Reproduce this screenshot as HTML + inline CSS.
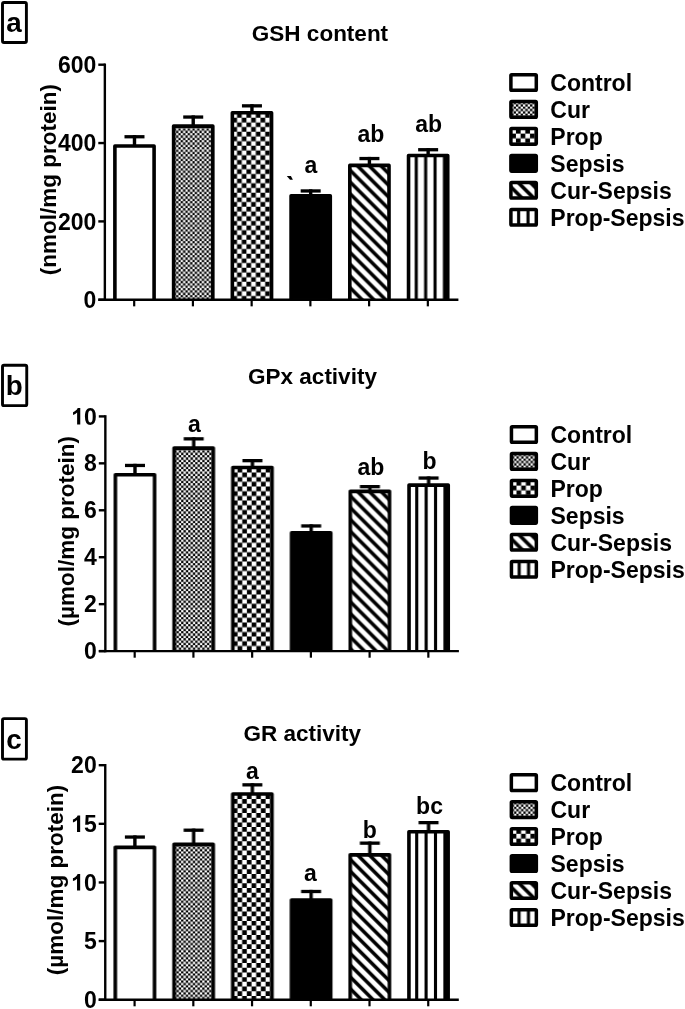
<!DOCTYPE html>
<html><head><meta charset="utf-8"><title>Figure</title>
<style>html,body{margin:0;padding:0;background:#fff}svg{display:block;will-change:transform}text{font-family:"Liberation Sans", sans-serif;font-weight:bold;fill:#000}</style>
</head><body>
<svg width="685" height="1009" viewBox="0 0 685 1009">
<rect width="685" height="1009" fill="#fff"/>
<rect x="2.50" y="2.50" width="23.90" height="40.05" rx="1.5" fill="#fff" stroke="#000" stroke-width="2.9"/>
<text x="14.05" y="32.05" font-size="27.8" text-anchor="middle">a</text>
<text x="320.00" y="40.60" font-size="22.5" text-anchor="middle">GSH content</text>
<text transform="translate(56.00 179.60) rotate(-90)" font-size="22.5" text-anchor="middle">(nmol/mg protein)</text>
<g transform="translate(0.00 0)">
<rect x="132.79" y="135.10" width="3.4" height="10.90" fill="#000"/>
<rect x="124.49" y="135.10" width="20.0" height="3.3" fill="#000"/>
<svg x="114.89" y="146.00" width="39.20" height="153.75"><rect width="100%" height="100%" fill="#fff"/></svg>
<path d="M114.89 299.75V146.00H154.09V299.75" fill="none" stroke="#000" stroke-width="3.6" stroke-linejoin="round"/>
<rect x="191.52" y="115.40" width="3.4" height="10.70" fill="#000"/>
<rect x="183.22" y="115.40" width="20.0" height="3.3" fill="#000"/>
<svg x="173.62" y="126.10" width="39.20" height="173.65"><rect width="100%" height="100%" fill="#fff"/><path d="M-4.70 -1.27H41.5M-2.35 1.07H41.5M-4.70 3.42H41.5M-2.35 5.77H41.5M-4.70 8.12H41.5M-2.35 10.46H41.5M-4.70 12.81H41.5M-2.35 15.16H41.5M-4.70 17.51H41.5M-2.35 19.85H41.5M-4.70 22.20H41.5M-2.35 24.55H41.5M-4.70 26.90H41.5M-2.35 29.24H41.5M-4.70 31.59H41.5M-2.35 33.94H41.5M-4.70 36.29H41.5M-2.35 38.63H41.5M-4.70 40.98H41.5M-2.35 43.33H41.5M-4.70 45.68H41.5M-2.35 48.02H41.5M-4.70 50.37H41.5M-2.35 52.72H41.5M-4.70 55.07H41.5M-2.35 57.41H41.5M-4.70 59.76H41.5M-2.35 62.11H41.5M-4.70 64.46H41.5M-2.35 66.80H41.5M-4.70 69.15H41.5M-2.35 71.50H41.5M-4.70 73.85H41.5M-2.35 76.19H41.5M-4.70 78.54H41.5M-2.35 80.89H41.5M-4.70 83.24H41.5M-2.35 85.58H41.5M-4.70 87.93H41.5M-2.35 90.28H41.5M-4.70 92.63H41.5M-2.35 94.97H41.5M-4.70 97.32H41.5M-2.35 99.67H41.5M-4.70 102.02H41.5M-2.35 104.36H41.5M-4.70 106.71H41.5M-2.35 109.06H41.5M-4.70 111.41H41.5M-2.35 113.75H41.5M-4.70 116.10H41.5M-2.35 118.45H41.5M-4.70 120.80H41.5M-2.35 123.14H41.5M-4.70 125.49H41.5M-2.35 127.84H41.5M-4.70 130.19H41.5M-2.35 132.53H41.5M-4.70 134.88H41.5M-2.35 137.23H41.5M-4.70 139.58H41.5M-2.35 141.92H41.5M-4.70 144.27H41.5M-2.35 146.62H41.5M-4.70 148.97H41.5M-2.35 151.31H41.5M-4.70 153.66H41.5M-2.35 156.01H41.5M-4.70 158.36H41.5M-2.35 160.70H41.5M-4.70 163.05H41.5M-2.35 165.40H41.5M-4.70 167.75H41.5M-2.35 170.09H41.5M-4.70 172.44H41.5M-2.35 174.79H41.5" stroke="#000" stroke-width="2.348" stroke-dasharray="2.348 2.348" fill="none"/></svg>
<path d="M173.62 299.75V126.10H212.82V299.75" fill="none" stroke="#000" stroke-width="3.6" stroke-linejoin="round"/>
<rect x="250.25" y="104.20" width="3.4" height="8.55" fill="#000"/>
<rect x="241.95" y="104.20" width="20.0" height="3.3" fill="#000"/>
<svg x="232.35" y="112.75" width="39.20" height="187.00"><rect width="100%" height="100%" fill="#fff"/><path d="M-9.38 -2.10H43.9M-4.69 2.60H43.9M-9.38 7.29H43.9M-4.69 11.98H43.9M-9.38 16.67H43.9M-4.69 21.36H43.9M-9.38 26.05H43.9M-4.69 30.74H43.9M-9.38 35.43H43.9M-4.69 40.12H43.9M-9.38 44.81H43.9M-4.69 49.50H43.9M-9.38 54.19H43.9M-4.69 58.88H43.9M-9.38 63.57H43.9M-4.69 68.26H43.9M-9.38 72.95H43.9M-4.69 77.64H43.9M-9.38 82.33H43.9M-4.69 87.02H43.9M-9.38 91.71H43.9M-4.69 96.40H43.9M-9.38 101.09H43.9M-4.69 105.78H43.9M-9.38 110.47H43.9M-4.69 115.16H43.9M-9.38 119.85H43.9M-4.69 124.54H43.9M-9.38 129.23H43.9M-4.69 133.92H43.9M-9.38 138.61H43.9M-4.69 143.30H43.9M-9.38 147.99H43.9M-4.69 152.68H43.9M-9.38 157.37H43.9M-4.69 162.06H43.9M-9.38 166.75H43.9M-4.69 171.44H43.9M-9.38 176.13H43.9M-4.69 180.82H43.9M-9.38 185.51H43.9" stroke="#000" stroke-width="4.690" stroke-dasharray="4.690 4.690" fill="none"/></svg>
<path d="M232.35 299.75V112.75H271.55V299.75" fill="none" stroke="#000" stroke-width="3.6" stroke-linejoin="round"/>
<rect x="308.98" y="189.30" width="3.4" height="6.50" fill="#000"/>
<rect x="300.68" y="189.30" width="20.0" height="3.3" fill="#000"/>
<svg x="291.08" y="195.80" width="39.20" height="103.95"><rect width="100%" height="100%" fill="#000"/></svg>
<path d="M291.08 299.75V195.80H330.28V299.75" fill="none" stroke="#000" stroke-width="3.6" stroke-linejoin="round"/>
<rect x="367.71" y="156.90" width="3.4" height="8.50" fill="#000"/>
<rect x="359.41" y="156.90" width="20.0" height="3.3" fill="#000"/>
<svg x="349.81" y="165.40" width="39.20" height="134.35"><rect width="100%" height="100%" fill="#fff"/><path d="M-2.00 -58.80L41.20 -15.60L41.20 -10.50L-2.00 -53.70ZM-2.00 -47.05L41.20 -3.85L41.20 1.25L-2.00 -41.95ZM-2.00 -35.30L41.20 7.90L41.20 13.00L-2.00 -30.20ZM-2.00 -23.55L41.20 19.65L41.20 24.75L-2.00 -18.45ZM-2.00 -11.80L41.20 31.40L41.20 36.50L-2.00 -6.70ZM-2.00 -0.05L41.20 43.15L41.20 48.25L-2.00 5.05ZM-2.00 11.70L41.20 54.90L41.20 60.00L-2.00 16.80ZM-2.00 23.45L41.20 66.65L41.20 71.75L-2.00 28.55ZM-2.00 35.20L41.20 78.40L41.20 83.50L-2.00 40.30ZM-2.00 46.95L41.20 90.15L41.20 95.25L-2.00 52.05ZM-2.00 58.70L41.20 101.90L41.20 107.00L-2.00 63.80ZM-2.00 70.45L41.20 113.65L41.20 118.75L-2.00 75.55ZM-2.00 82.20L41.20 125.40L41.20 130.50L-2.00 87.30ZM-2.00 93.95L41.20 137.15L41.20 142.25L-2.00 99.05ZM-2.00 105.70L41.20 148.90L41.20 154.00L-2.00 110.80ZM-2.00 117.45L41.20 160.65L41.20 165.75L-2.00 122.55ZM-2.00 129.20L41.20 172.40L41.20 177.50L-2.00 134.30Z" fill="#000"/></svg>
<path d="M349.81 299.75V165.40H389.01V299.75" fill="none" stroke="#000" stroke-width="3.6" stroke-linejoin="round"/>
<rect x="426.44" y="148.07" width="3.4" height="7.49" fill="#000"/>
<rect x="418.14" y="148.07" width="20.0" height="3.3" fill="#000"/>
<svg x="408.54" y="155.56" width="39.20" height="144.19"><rect width="100%" height="100%" fill="#fff"/><path d="M6.15 0H9.25V144.2H6.15ZM15.55 0H18.65V144.2H15.55ZM24.95 0H28.05V144.2H24.95ZM34.35 0H39.20V144.2H34.35Z" fill="#000"/></svg>
<path d="M408.54 299.75V155.56H447.74V299.75" fill="none" stroke="#000" stroke-width="3.6" stroke-linejoin="round"/>
<path d="M104.85 63.50 V300.95" stroke="#000" stroke-width="2.4" fill="none"/>
<path d="M98.30 299.75 H458.40" stroke="#000" stroke-width="2.4" fill="none"/>
<path d="M98.3 299.75 H104.85" stroke="#000" stroke-width="2.4"/>
<text x="96.3" y="307.85" font-size="23.0" text-anchor="end">0</text>
<path d="M98.3 221.40 H104.85" stroke="#000" stroke-width="2.4"/>
<text x="96.3" y="229.50" font-size="23.0" text-anchor="end">200</text>
<path d="M98.3 143.05 H104.85" stroke="#000" stroke-width="2.4"/>
<text x="96.3" y="151.15" font-size="23.0" text-anchor="end">400</text>
<path d="M98.3 64.70 H104.85" stroke="#000" stroke-width="2.4"/>
<text x="96.3" y="72.80" font-size="23.0" text-anchor="end">600</text>
<path d="M134.19 299.75 V306.35" stroke="#000" stroke-width="2.2"/>
<path d="M192.92 299.75 V306.35" stroke="#000" stroke-width="2.2"/>
<path d="M251.65 299.75 V306.35" stroke="#000" stroke-width="2.2"/>
<path d="M310.38 299.75 V306.35" stroke="#000" stroke-width="2.2"/>
<path d="M369.11 299.75 V306.35" stroke="#000" stroke-width="2.2"/>
<path d="M427.84 299.75 V306.35" stroke="#000" stroke-width="2.2"/>
</g>
<text x="310.80" y="173.10" font-size="23.0" text-anchor="middle">a</text>
<text x="370.90" y="142.30" font-size="23.0" text-anchor="middle">ab</text>
<text x="428.70" y="131.60" font-size="23.0" text-anchor="middle">ab</text>
<svg x="510.90" y="74.65" width="25.40" height="15.60"><rect width="100%" height="100%" fill="#fff"/></svg>
<rect x="510.90" y="74.65" width="25.40" height="15.60" rx="0.8" fill="none" stroke="#000" stroke-width="3.5" stroke-linejoin="round"/>
<text x="550.30" y="90.80" font-size="23.0">Control</text>
<svg x="510.90" y="101.61" width="25.40" height="15.60"><rect width="100%" height="100%" fill="#fff"/><path d="M-4.40 -0.97H27.7M-2.05 1.37H27.7M-4.40 3.72H27.7M-2.05 6.07H27.7M-4.40 8.42H27.7M-2.05 10.76H27.7M-4.40 13.11H27.7M-2.05 15.46H27.7" stroke="#000" stroke-width="2.348" stroke-dasharray="2.348 2.348" fill="none"/></svg>
<rect x="510.90" y="101.61" width="25.40" height="15.60" rx="0.8" fill="none" stroke="#000" stroke-width="3.5" stroke-linejoin="round"/>
<text x="550.30" y="117.76" font-size="23.0">Cur</text>
<svg x="510.90" y="128.57" width="25.40" height="15.60"><rect width="100%" height="100%" fill="#fff"/><path d="M-9.08 -1.95H30.1M-4.39 2.75H30.1M-9.08 7.44H30.1M-4.39 12.13H30.1M-9.08 16.82H30.1" stroke="#000" stroke-width="4.690" stroke-dasharray="4.690 4.690" fill="none"/></svg>
<rect x="510.90" y="128.57" width="25.40" height="15.60" rx="0.8" fill="none" stroke="#000" stroke-width="3.5" stroke-linejoin="round"/>
<text x="550.30" y="144.72" font-size="23.0">Prop</text>
<svg x="510.90" y="155.53" width="25.40" height="15.60"><rect width="100%" height="100%" fill="#000"/></svg>
<rect x="510.90" y="155.53" width="25.40" height="15.60" rx="0.8" fill="none" stroke="#000" stroke-width="3.5" stroke-linejoin="round"/>
<text x="550.30" y="171.68" font-size="23.0">Sepsis</text>
<svg x="510.90" y="182.49" width="25.40" height="15.60"><rect width="100%" height="100%" fill="#fff"/><path d="M-2.00 -47.05L27.40 -17.65L27.40 -12.55L-2.00 -41.95ZM-2.00 -35.30L27.40 -5.90L27.40 -0.80L-2.00 -30.20ZM-2.00 -29.55L27.40 -0.15L27.40 10.45L-2.00 -18.95ZM-2.00 -11.80L27.40 17.60L27.40 22.70L-2.00 -6.70ZM-2.00 -0.05L27.40 29.35L27.40 34.45L-2.00 5.05ZM-2.00 11.70L27.40 41.10L27.40 46.20L-2.00 16.80Z" fill="#000"/></svg>
<rect x="510.90" y="182.49" width="25.40" height="15.60" rx="0.8" fill="none" stroke="#000" stroke-width="3.5" stroke-linejoin="round"/>
<text x="550.30" y="198.64" font-size="23.0">Cur-Sepsis</text>
<svg x="510.90" y="209.45" width="25.40" height="15.60"><rect width="100%" height="100%" fill="#fff"/><path d="M6.15 0H9.25V15.6H6.15ZM15.55 0H18.65V15.6H15.55ZM24.95 0H25.40V15.6H24.95Z" fill="#000"/></svg>
<rect x="510.90" y="209.45" width="25.40" height="15.60" rx="0.8" fill="none" stroke="#000" stroke-width="3.5" stroke-linejoin="round"/>
<text x="550.30" y="225.60" font-size="23.0">Prop-Sepsis</text>
<rect x="2.50" y="365.25" width="24.25" height="40.40" rx="1.5" fill="#fff" stroke="#000" stroke-width="2.9"/>
<text x="14.22" y="395.30" font-size="27.8" text-anchor="middle">b</text>
<text x="312.50" y="383.50" font-size="22.5" text-anchor="middle">GPx activity</text>
<text transform="translate(73.80 531.30) rotate(-90)" font-size="22.5" text-anchor="middle">(µmol/mg protein)</text>
<g transform="translate(0.50 0)">
<rect x="132.79" y="463.80" width="3.4" height="10.90" fill="#000"/>
<rect x="124.49" y="463.80" width="20.0" height="3.3" fill="#000"/>
<svg x="114.89" y="474.70" width="39.20" height="176.40"><rect width="100%" height="100%" fill="#fff"/></svg>
<path d="M114.89 651.10V474.70H154.09V651.10" fill="none" stroke="#000" stroke-width="3.6" stroke-linejoin="round"/>
<rect x="191.52" y="437.20" width="3.4" height="10.90" fill="#000"/>
<rect x="183.22" y="437.20" width="20.0" height="3.3" fill="#000"/>
<svg x="173.62" y="448.10" width="39.20" height="203.00"><rect width="100%" height="100%" fill="#fff"/><path d="M-4.70 -1.27H41.5M-2.35 1.07H41.5M-4.70 3.42H41.5M-2.35 5.77H41.5M-4.70 8.12H41.5M-2.35 10.46H41.5M-4.70 12.81H41.5M-2.35 15.16H41.5M-4.70 17.51H41.5M-2.35 19.85H41.5M-4.70 22.20H41.5M-2.35 24.55H41.5M-4.70 26.90H41.5M-2.35 29.24H41.5M-4.70 31.59H41.5M-2.35 33.94H41.5M-4.70 36.29H41.5M-2.35 38.63H41.5M-4.70 40.98H41.5M-2.35 43.33H41.5M-4.70 45.68H41.5M-2.35 48.02H41.5M-4.70 50.37H41.5M-2.35 52.72H41.5M-4.70 55.07H41.5M-2.35 57.41H41.5M-4.70 59.76H41.5M-2.35 62.11H41.5M-4.70 64.46H41.5M-2.35 66.80H41.5M-4.70 69.15H41.5M-2.35 71.50H41.5M-4.70 73.85H41.5M-2.35 76.19H41.5M-4.70 78.54H41.5M-2.35 80.89H41.5M-4.70 83.24H41.5M-2.35 85.58H41.5M-4.70 87.93H41.5M-2.35 90.28H41.5M-4.70 92.63H41.5M-2.35 94.97H41.5M-4.70 97.32H41.5M-2.35 99.67H41.5M-4.70 102.02H41.5M-2.35 104.36H41.5M-4.70 106.71H41.5M-2.35 109.06H41.5M-4.70 111.41H41.5M-2.35 113.75H41.5M-4.70 116.10H41.5M-2.35 118.45H41.5M-4.70 120.80H41.5M-2.35 123.14H41.5M-4.70 125.49H41.5M-2.35 127.84H41.5M-4.70 130.19H41.5M-2.35 132.53H41.5M-4.70 134.88H41.5M-2.35 137.23H41.5M-4.70 139.58H41.5M-2.35 141.92H41.5M-4.70 144.27H41.5M-2.35 146.62H41.5M-4.70 148.97H41.5M-2.35 151.31H41.5M-4.70 153.66H41.5M-2.35 156.01H41.5M-4.70 158.36H41.5M-2.35 160.70H41.5M-4.70 163.05H41.5M-2.35 165.40H41.5M-4.70 167.75H41.5M-2.35 170.09H41.5M-4.70 172.44H41.5M-2.35 174.79H41.5M-4.70 177.14H41.5M-2.35 179.48H41.5M-4.70 181.83H41.5M-2.35 184.18H41.5M-4.70 186.53H41.5M-2.35 188.87H41.5M-4.70 191.22H41.5M-2.35 193.57H41.5M-4.70 195.92H41.5M-2.35 198.26H41.5M-4.70 200.61H41.5M-2.35 202.96H41.5" stroke="#000" stroke-width="2.348" stroke-dasharray="2.348 2.348" fill="none"/></svg>
<path d="M173.62 651.10V448.10H212.82V651.10" fill="none" stroke="#000" stroke-width="3.6" stroke-linejoin="round"/>
<rect x="250.25" y="459.00" width="3.4" height="8.50" fill="#000"/>
<rect x="241.95" y="459.00" width="20.0" height="3.3" fill="#000"/>
<svg x="232.35" y="467.50" width="39.20" height="183.60"><rect width="100%" height="100%" fill="#fff"/><path d="M-9.38 -2.10H43.9M-4.69 2.60H43.9M-9.38 7.29H43.9M-4.69 11.98H43.9M-9.38 16.67H43.9M-4.69 21.36H43.9M-9.38 26.05H43.9M-4.69 30.74H43.9M-9.38 35.43H43.9M-4.69 40.12H43.9M-9.38 44.81H43.9M-4.69 49.50H43.9M-9.38 54.19H43.9M-4.69 58.88H43.9M-9.38 63.57H43.9M-4.69 68.26H43.9M-9.38 72.95H43.9M-4.69 77.64H43.9M-9.38 82.33H43.9M-4.69 87.02H43.9M-9.38 91.71H43.9M-4.69 96.40H43.9M-9.38 101.09H43.9M-4.69 105.78H43.9M-9.38 110.47H43.9M-4.69 115.16H43.9M-9.38 119.85H43.9M-4.69 124.54H43.9M-9.38 129.23H43.9M-4.69 133.92H43.9M-9.38 138.61H43.9M-4.69 143.30H43.9M-9.38 147.99H43.9M-4.69 152.68H43.9M-9.38 157.37H43.9M-4.69 162.06H43.9M-9.38 166.75H43.9M-4.69 171.44H43.9M-9.38 176.13H43.9M-4.69 180.82H43.9M-9.38 185.51H43.9" stroke="#000" stroke-width="4.690" stroke-dasharray="4.690 4.690" fill="none"/></svg>
<path d="M232.35 651.10V467.50H271.55V651.10" fill="none" stroke="#000" stroke-width="3.6" stroke-linejoin="round"/>
<rect x="308.98" y="524.30" width="3.4" height="8.60" fill="#000"/>
<rect x="300.68" y="524.30" width="20.0" height="3.3" fill="#000"/>
<svg x="291.08" y="532.90" width="39.20" height="118.20"><rect width="100%" height="100%" fill="#000"/></svg>
<path d="M291.08 651.10V532.90H330.28V651.10" fill="none" stroke="#000" stroke-width="3.6" stroke-linejoin="round"/>
<rect x="367.71" y="485.00" width="3.4" height="6.40" fill="#000"/>
<rect x="359.41" y="485.00" width="20.0" height="3.3" fill="#000"/>
<svg x="349.81" y="491.40" width="39.20" height="159.70"><rect width="100%" height="100%" fill="#fff"/><path d="M-2.00 -58.80L41.20 -15.60L41.20 -10.50L-2.00 -53.70ZM-2.00 -47.05L41.20 -3.85L41.20 1.25L-2.00 -41.95ZM-2.00 -35.30L41.20 7.90L41.20 13.00L-2.00 -30.20ZM-2.00 -23.55L41.20 19.65L41.20 24.75L-2.00 -18.45ZM-2.00 -11.80L41.20 31.40L41.20 36.50L-2.00 -6.70ZM-2.00 -0.05L41.20 43.15L41.20 48.25L-2.00 5.05ZM-2.00 11.70L41.20 54.90L41.20 60.00L-2.00 16.80ZM-2.00 23.45L41.20 66.65L41.20 71.75L-2.00 28.55ZM-2.00 35.20L41.20 78.40L41.20 83.50L-2.00 40.30ZM-2.00 46.95L41.20 90.15L41.20 95.25L-2.00 52.05ZM-2.00 58.70L41.20 101.90L41.20 107.00L-2.00 63.80ZM-2.00 70.45L41.20 113.65L41.20 118.75L-2.00 75.55ZM-2.00 82.20L41.20 125.40L41.20 130.50L-2.00 87.30ZM-2.00 93.95L41.20 137.15L41.20 142.25L-2.00 99.05ZM-2.00 105.70L41.20 148.90L41.20 154.00L-2.00 110.80ZM-2.00 117.45L41.20 160.65L41.20 165.75L-2.00 122.55ZM-2.00 129.20L41.20 172.40L41.20 177.50L-2.00 134.30ZM-2.00 140.95L41.20 184.15L41.20 189.25L-2.00 146.05ZM-2.00 152.70L41.20 195.90L41.20 201.00L-2.00 157.80Z" fill="#000"/></svg>
<path d="M349.81 651.10V491.40H389.01V651.10" fill="none" stroke="#000" stroke-width="3.6" stroke-linejoin="round"/>
<rect x="426.44" y="476.40" width="3.4" height="8.70" fill="#000"/>
<rect x="418.14" y="476.40" width="20.0" height="3.3" fill="#000"/>
<svg x="408.54" y="485.10" width="39.20" height="166.00"><rect width="100%" height="100%" fill="#fff"/><path d="M6.15 0H9.25V166.0H6.15ZM15.55 0H18.65V166.0H15.55ZM24.95 0H28.05V166.0H24.95ZM34.35 0H39.20V166.0H34.35Z" fill="#000"/></svg>
<path d="M408.54 651.10V485.10H447.74V651.10" fill="none" stroke="#000" stroke-width="3.6" stroke-linejoin="round"/>
<path d="M104.85 415.20 V652.30" stroke="#000" stroke-width="2.4" fill="none"/>
<path d="M98.30 651.10 H458.40" stroke="#000" stroke-width="2.4" fill="none"/>
<path d="M98.3 651.10 H104.85" stroke="#000" stroke-width="2.4"/>
<text x="96.3" y="659.20" font-size="23.0" text-anchor="end">0</text>
<path d="M98.3 604.16 H104.85" stroke="#000" stroke-width="2.4"/>
<text x="96.3" y="612.26" font-size="23.0" text-anchor="end">2</text>
<path d="M98.3 557.22 H104.85" stroke="#000" stroke-width="2.4"/>
<text x="96.3" y="565.32" font-size="23.0" text-anchor="end">4</text>
<path d="M98.3 510.28 H104.85" stroke="#000" stroke-width="2.4"/>
<text x="96.3" y="518.38" font-size="23.0" text-anchor="end">6</text>
<path d="M98.3 463.34 H104.85" stroke="#000" stroke-width="2.4"/>
<text x="96.3" y="471.44" font-size="23.0" text-anchor="end">8</text>
<path d="M98.3 416.40 H104.85" stroke="#000" stroke-width="2.4"/>
<path transform="translate(70.72 424.50) scale(0.01123 -0.01123)" d="M806 0H525V1059Q371 915 162 846V1101Q272 1137 401 1237.5Q530 1338 578 1472H806Z" fill="#000"/>
<text x="96.3" y="424.50" font-size="23.0" text-anchor="end">0</text>
<path d="M134.19 651.10 V657.70" stroke="#000" stroke-width="2.2"/>
<path d="M192.92 651.10 V657.70" stroke="#000" stroke-width="2.2"/>
<path d="M251.65 651.10 V657.70" stroke="#000" stroke-width="2.2"/>
<path d="M310.38 651.10 V657.70" stroke="#000" stroke-width="2.2"/>
<path d="M369.11 651.10 V657.70" stroke="#000" stroke-width="2.2"/>
<path d="M427.84 651.10 V657.70" stroke="#000" stroke-width="2.2"/>
</g>
<text x="194.30" y="431.80" font-size="23.0" text-anchor="middle">a</text>
<text x="370.90" y="474.60" font-size="23.0" text-anchor="middle">ab</text>
<text x="429.50" y="469.30" font-size="23.0" text-anchor="middle">b</text>
<svg x="511.45" y="426.65" width="24.90" height="15.60"><rect width="100%" height="100%" fill="#fff"/></svg>
<rect x="511.45" y="426.65" width="24.90" height="15.60" rx="0.8" fill="none" stroke="#000" stroke-width="3.5" stroke-linejoin="round"/>
<text x="550.50" y="442.80" font-size="23.0">Control</text>
<svg x="511.45" y="453.61" width="24.90" height="15.60"><rect width="100%" height="100%" fill="#fff"/><path d="M-4.40 -0.97H27.2M-2.05 1.37H27.2M-4.40 3.72H27.2M-2.05 6.07H27.2M-4.40 8.42H27.2M-2.05 10.76H27.2M-4.40 13.11H27.2M-2.05 15.46H27.2" stroke="#000" stroke-width="2.348" stroke-dasharray="2.348 2.348" fill="none"/></svg>
<rect x="511.45" y="453.61" width="24.90" height="15.60" rx="0.8" fill="none" stroke="#000" stroke-width="3.5" stroke-linejoin="round"/>
<text x="550.50" y="469.76" font-size="23.0">Cur</text>
<svg x="511.45" y="480.57" width="24.90" height="15.60"><rect width="100%" height="100%" fill="#fff"/><path d="M-9.08 -1.95H29.6M-4.39 2.75H29.6M-9.08 7.44H29.6M-4.39 12.13H29.6M-9.08 16.82H29.6" stroke="#000" stroke-width="4.690" stroke-dasharray="4.690 4.690" fill="none"/></svg>
<rect x="511.45" y="480.57" width="24.90" height="15.60" rx="0.8" fill="none" stroke="#000" stroke-width="3.5" stroke-linejoin="round"/>
<text x="550.50" y="496.72" font-size="23.0">Prop</text>
<svg x="511.45" y="507.53" width="24.90" height="15.60"><rect width="100%" height="100%" fill="#000"/></svg>
<rect x="511.45" y="507.53" width="24.90" height="15.60" rx="0.8" fill="none" stroke="#000" stroke-width="3.5" stroke-linejoin="round"/>
<text x="550.50" y="523.68" font-size="23.0">Sepsis</text>
<svg x="511.45" y="534.49" width="24.90" height="15.60"><rect width="100%" height="100%" fill="#fff"/><path d="M-2.00 -47.05L26.90 -18.15L26.90 -13.05L-2.00 -41.95ZM-2.00 -35.30L26.90 -6.40L26.90 -1.30L-2.00 -30.20ZM-2.00 -29.55L26.90 -0.65L26.90 9.95L-2.00 -18.95ZM-2.00 -11.80L26.90 17.10L26.90 22.20L-2.00 -6.70ZM-2.00 -0.05L26.90 28.85L26.90 33.95L-2.00 5.05ZM-2.00 11.70L26.90 40.60L26.90 45.70L-2.00 16.80Z" fill="#000"/></svg>
<rect x="511.45" y="534.49" width="24.90" height="15.60" rx="0.8" fill="none" stroke="#000" stroke-width="3.5" stroke-linejoin="round"/>
<text x="550.50" y="550.64" font-size="23.0">Cur-Sepsis</text>
<svg x="511.45" y="561.45" width="24.90" height="15.60"><rect width="100%" height="100%" fill="#fff"/><path d="M6.15 0H9.25V15.6H6.15ZM15.55 0H18.65V15.6H15.55ZM24.95 0H24.90V15.6H24.95Z" fill="#000"/></svg>
<rect x="511.45" y="561.45" width="24.90" height="15.60" rx="0.8" fill="none" stroke="#000" stroke-width="3.5" stroke-linejoin="round"/>
<text x="550.50" y="577.60" font-size="23.0">Prop-Sepsis</text>
<rect x="2.50" y="718.65" width="23.90" height="40.50" rx="1.5" fill="#fff" stroke="#000" stroke-width="2.9"/>
<text x="14.05" y="748.80" font-size="27.8" text-anchor="middle">c</text>
<text x="302.20" y="741.10" font-size="22.5" text-anchor="middle">GR activity</text>
<text transform="translate(63.00 880.00) rotate(-90)" font-size="22.5" text-anchor="middle">(µmol/mg protein)</text>
<g transform="translate(0.40 0)">
<rect x="132.79" y="835.40" width="3.4" height="11.95" fill="#000"/>
<rect x="124.49" y="835.40" width="20.0" height="3.3" fill="#000"/>
<svg x="114.89" y="847.35" width="39.20" height="152.35"><rect width="100%" height="100%" fill="#fff"/></svg>
<path d="M114.89 999.70V847.35H154.09V999.70" fill="none" stroke="#000" stroke-width="3.6" stroke-linejoin="round"/>
<rect x="191.52" y="828.55" width="3.4" height="15.85" fill="#000"/>
<rect x="183.22" y="828.55" width="20.0" height="3.3" fill="#000"/>
<svg x="173.62" y="844.40" width="39.20" height="155.30"><rect width="100%" height="100%" fill="#fff"/><path d="M-4.70 -1.27H41.5M-2.35 1.07H41.5M-4.70 3.42H41.5M-2.35 5.77H41.5M-4.70 8.12H41.5M-2.35 10.46H41.5M-4.70 12.81H41.5M-2.35 15.16H41.5M-4.70 17.51H41.5M-2.35 19.85H41.5M-4.70 22.20H41.5M-2.35 24.55H41.5M-4.70 26.90H41.5M-2.35 29.24H41.5M-4.70 31.59H41.5M-2.35 33.94H41.5M-4.70 36.29H41.5M-2.35 38.63H41.5M-4.70 40.98H41.5M-2.35 43.33H41.5M-4.70 45.68H41.5M-2.35 48.02H41.5M-4.70 50.37H41.5M-2.35 52.72H41.5M-4.70 55.07H41.5M-2.35 57.41H41.5M-4.70 59.76H41.5M-2.35 62.11H41.5M-4.70 64.46H41.5M-2.35 66.80H41.5M-4.70 69.15H41.5M-2.35 71.50H41.5M-4.70 73.85H41.5M-2.35 76.19H41.5M-4.70 78.54H41.5M-2.35 80.89H41.5M-4.70 83.24H41.5M-2.35 85.58H41.5M-4.70 87.93H41.5M-2.35 90.28H41.5M-4.70 92.63H41.5M-2.35 94.97H41.5M-4.70 97.32H41.5M-2.35 99.67H41.5M-4.70 102.02H41.5M-2.35 104.36H41.5M-4.70 106.71H41.5M-2.35 109.06H41.5M-4.70 111.41H41.5M-2.35 113.75H41.5M-4.70 116.10H41.5M-2.35 118.45H41.5M-4.70 120.80H41.5M-2.35 123.14H41.5M-4.70 125.49H41.5M-2.35 127.84H41.5M-4.70 130.19H41.5M-2.35 132.53H41.5M-4.70 134.88H41.5M-2.35 137.23H41.5M-4.70 139.58H41.5M-2.35 141.92H41.5M-4.70 144.27H41.5M-2.35 146.62H41.5M-4.70 148.97H41.5M-2.35 151.31H41.5M-4.70 153.66H41.5M-2.35 156.01H41.5" stroke="#000" stroke-width="2.348" stroke-dasharray="2.348 2.348" fill="none"/></svg>
<path d="M173.62 999.70V844.40H212.82V999.70" fill="none" stroke="#000" stroke-width="3.6" stroke-linejoin="round"/>
<rect x="250.25" y="783.20" width="3.4" height="10.75" fill="#000"/>
<rect x="241.95" y="783.20" width="20.0" height="3.3" fill="#000"/>
<svg x="232.35" y="793.95" width="39.20" height="205.75"><rect width="100%" height="100%" fill="#fff"/><path d="M-9.38 -2.10H43.9M-4.69 2.60H43.9M-9.38 7.29H43.9M-4.69 11.98H43.9M-9.38 16.67H43.9M-4.69 21.36H43.9M-9.38 26.05H43.9M-4.69 30.74H43.9M-9.38 35.43H43.9M-4.69 40.12H43.9M-9.38 44.81H43.9M-4.69 49.50H43.9M-9.38 54.19H43.9M-4.69 58.88H43.9M-9.38 63.57H43.9M-4.69 68.26H43.9M-9.38 72.95H43.9M-4.69 77.64H43.9M-9.38 82.33H43.9M-4.69 87.02H43.9M-9.38 91.71H43.9M-4.69 96.40H43.9M-9.38 101.09H43.9M-4.69 105.78H43.9M-9.38 110.47H43.9M-4.69 115.16H43.9M-9.38 119.85H43.9M-4.69 124.54H43.9M-9.38 129.23H43.9M-4.69 133.92H43.9M-9.38 138.61H43.9M-4.69 143.30H43.9M-9.38 147.99H43.9M-4.69 152.68H43.9M-9.38 157.37H43.9M-4.69 162.06H43.9M-9.38 166.75H43.9M-4.69 171.44H43.9M-9.38 176.13H43.9M-4.69 180.82H43.9M-9.38 185.51H43.9M-4.69 190.20H43.9M-9.38 194.89H43.9M-4.69 199.58H43.9M-9.38 204.27H43.9" stroke="#000" stroke-width="4.690" stroke-dasharray="4.690 4.690" fill="none"/></svg>
<path d="M232.35 999.70V793.95H271.55V999.70" fill="none" stroke="#000" stroke-width="3.6" stroke-linejoin="round"/>
<rect x="308.98" y="889.85" width="3.4" height="10.20" fill="#000"/>
<rect x="300.68" y="889.85" width="20.0" height="3.3" fill="#000"/>
<svg x="291.08" y="900.05" width="39.20" height="99.65"><rect width="100%" height="100%" fill="#000"/></svg>
<path d="M291.08 999.70V900.05H330.28V999.70" fill="none" stroke="#000" stroke-width="3.6" stroke-linejoin="round"/>
<rect x="367.71" y="841.50" width="3.4" height="13.35" fill="#000"/>
<rect x="359.41" y="841.50" width="20.0" height="3.3" fill="#000"/>
<svg x="349.81" y="854.85" width="39.20" height="144.85"><rect width="100%" height="100%" fill="#fff"/><path d="M-2.00 -58.80L41.20 -15.60L41.20 -10.50L-2.00 -53.70ZM-2.00 -47.05L41.20 -3.85L41.20 1.25L-2.00 -41.95ZM-2.00 -35.30L41.20 7.90L41.20 13.00L-2.00 -30.20ZM-2.00 -23.55L41.20 19.65L41.20 24.75L-2.00 -18.45ZM-2.00 -11.80L41.20 31.40L41.20 36.50L-2.00 -6.70ZM-2.00 -0.05L41.20 43.15L41.20 48.25L-2.00 5.05ZM-2.00 11.70L41.20 54.90L41.20 60.00L-2.00 16.80ZM-2.00 23.45L41.20 66.65L41.20 71.75L-2.00 28.55ZM-2.00 35.20L41.20 78.40L41.20 83.50L-2.00 40.30ZM-2.00 46.95L41.20 90.15L41.20 95.25L-2.00 52.05ZM-2.00 58.70L41.20 101.90L41.20 107.00L-2.00 63.80ZM-2.00 70.45L41.20 113.65L41.20 118.75L-2.00 75.55ZM-2.00 82.20L41.20 125.40L41.20 130.50L-2.00 87.30ZM-2.00 93.95L41.20 137.15L41.20 142.25L-2.00 99.05ZM-2.00 105.70L41.20 148.90L41.20 154.00L-2.00 110.80ZM-2.00 117.45L41.20 160.65L41.20 165.75L-2.00 122.55ZM-2.00 129.20L41.20 172.40L41.20 177.50L-2.00 134.30ZM-2.00 140.95L41.20 184.15L41.20 189.25L-2.00 146.05Z" fill="#000"/></svg>
<path d="M349.81 999.70V854.85H389.01V999.70" fill="none" stroke="#000" stroke-width="3.6" stroke-linejoin="round"/>
<rect x="426.44" y="821.00" width="3.4" height="10.70" fill="#000"/>
<rect x="418.14" y="821.00" width="20.0" height="3.3" fill="#000"/>
<svg x="408.54" y="831.70" width="39.20" height="168.00"><rect width="100%" height="100%" fill="#fff"/><path d="M6.15 0H9.25V168.0H6.15ZM15.55 0H18.65V168.0H15.55ZM24.95 0H28.05V168.0H24.95ZM34.35 0H39.20V168.0H34.35Z" fill="#000"/></svg>
<path d="M408.54 999.70V831.70H447.74V999.70" fill="none" stroke="#000" stroke-width="3.6" stroke-linejoin="round"/>
<path d="M104.85 764.00 V1000.90" stroke="#000" stroke-width="2.4" fill="none"/>
<path d="M98.30 999.70 H458.40" stroke="#000" stroke-width="2.4" fill="none"/>
<path d="M98.3 999.70 H104.85" stroke="#000" stroke-width="2.4"/>
<text x="96.3" y="1007.80" font-size="23.0" text-anchor="end">0</text>
<path d="M98.3 941.08 H104.85" stroke="#000" stroke-width="2.4"/>
<text x="96.3" y="949.18" font-size="23.0" text-anchor="end">5</text>
<path d="M98.3 882.45 H104.85" stroke="#000" stroke-width="2.4"/>
<path transform="translate(70.72 890.55) scale(0.01123 -0.01123)" d="M806 0H525V1059Q371 915 162 846V1101Q272 1137 401 1237.5Q530 1338 578 1472H806Z" fill="#000"/>
<text x="96.3" y="890.55" font-size="23.0" text-anchor="end">0</text>
<path d="M98.3 823.83 H104.85" stroke="#000" stroke-width="2.4"/>
<path transform="translate(70.72 831.93) scale(0.01123 -0.01123)" d="M806 0H525V1059Q371 915 162 846V1101Q272 1137 401 1237.5Q530 1338 578 1472H806Z" fill="#000"/>
<text x="96.3" y="831.93" font-size="23.0" text-anchor="end">5</text>
<path d="M98.3 765.20 H104.85" stroke="#000" stroke-width="2.4"/>
<text x="96.3" y="773.30" font-size="23.0" text-anchor="end">20</text>
<path d="M134.19 999.70 V1006.30" stroke="#000" stroke-width="2.2"/>
<path d="M192.92 999.70 V1006.30" stroke="#000" stroke-width="2.2"/>
<path d="M251.65 999.70 V1006.30" stroke="#000" stroke-width="2.2"/>
<path d="M310.38 999.70 V1006.30" stroke="#000" stroke-width="2.2"/>
<path d="M369.11 999.70 V1006.30" stroke="#000" stroke-width="2.2"/>
<path d="M427.84 999.70 V1006.30" stroke="#000" stroke-width="2.2"/>
</g>
<text x="252.50" y="779.05" font-size="23.0" text-anchor="middle">a</text>
<text x="310.50" y="881.05" font-size="23.0" text-anchor="middle">a</text>
<text x="369.80" y="837.70" font-size="23.0" text-anchor="middle">b</text>
<text x="429.50" y="813.80" font-size="23.0" text-anchor="middle">bc</text>
<svg x="511.35" y="774.85" width="25.00" height="15.60"><rect width="100%" height="100%" fill="#fff"/></svg>
<rect x="511.35" y="774.85" width="25.00" height="15.60" rx="0.8" fill="none" stroke="#000" stroke-width="3.5" stroke-linejoin="round"/>
<text x="550.50" y="791.00" font-size="23.0">Control</text>
<svg x="511.35" y="801.81" width="25.00" height="15.60"><rect width="100%" height="100%" fill="#fff"/><path d="M-4.40 -0.97H27.3M-2.05 1.37H27.3M-4.40 3.72H27.3M-2.05 6.07H27.3M-4.40 8.42H27.3M-2.05 10.76H27.3M-4.40 13.11H27.3M-2.05 15.46H27.3" stroke="#000" stroke-width="2.348" stroke-dasharray="2.348 2.348" fill="none"/></svg>
<rect x="511.35" y="801.81" width="25.00" height="15.60" rx="0.8" fill="none" stroke="#000" stroke-width="3.5" stroke-linejoin="round"/>
<text x="550.50" y="817.96" font-size="23.0">Cur</text>
<svg x="511.35" y="828.77" width="25.00" height="15.60"><rect width="100%" height="100%" fill="#fff"/><path d="M-9.08 -1.95H29.7M-4.39 2.75H29.7M-9.08 7.44H29.7M-4.39 12.13H29.7M-9.08 16.82H29.7" stroke="#000" stroke-width="4.690" stroke-dasharray="4.690 4.690" fill="none"/></svg>
<rect x="511.35" y="828.77" width="25.00" height="15.60" rx="0.8" fill="none" stroke="#000" stroke-width="3.5" stroke-linejoin="round"/>
<text x="550.50" y="844.92" font-size="23.0">Prop</text>
<svg x="511.35" y="855.73" width="25.00" height="15.60"><rect width="100%" height="100%" fill="#000"/></svg>
<rect x="511.35" y="855.73" width="25.00" height="15.60" rx="0.8" fill="none" stroke="#000" stroke-width="3.5" stroke-linejoin="round"/>
<text x="550.50" y="871.88" font-size="23.0">Sepsis</text>
<svg x="511.35" y="882.69" width="25.00" height="15.60"><rect width="100%" height="100%" fill="#fff"/><path d="M-2.00 -47.05L27.00 -18.05L27.00 -12.95L-2.00 -41.95ZM-2.00 -35.30L27.00 -6.30L27.00 -1.20L-2.00 -30.20ZM-2.00 -29.55L27.00 -0.55L27.00 10.05L-2.00 -18.95ZM-2.00 -11.80L27.00 17.20L27.00 22.30L-2.00 -6.70ZM-2.00 -0.05L27.00 28.95L27.00 34.05L-2.00 5.05ZM-2.00 11.70L27.00 40.70L27.00 45.80L-2.00 16.80Z" fill="#000"/></svg>
<rect x="511.35" y="882.69" width="25.00" height="15.60" rx="0.8" fill="none" stroke="#000" stroke-width="3.5" stroke-linejoin="round"/>
<text x="550.50" y="898.84" font-size="23.0">Cur-Sepsis</text>
<svg x="511.35" y="909.65" width="25.00" height="15.60"><rect width="100%" height="100%" fill="#fff"/><path d="M6.15 0H9.25V15.6H6.15ZM15.55 0H18.65V15.6H15.55ZM24.95 0H25.00V15.6H24.95Z" fill="#000"/></svg>
<rect x="511.35" y="909.65" width="25.00" height="15.60" rx="0.8" fill="none" stroke="#000" stroke-width="3.5" stroke-linejoin="round"/>
<text x="550.50" y="925.80" font-size="23.0">Prop-Sepsis</text>
<path d="M286.8 175.9 L290.9 175.9 L292.9 179.8 L290.0 179.8 Z" fill="#000"/>
</svg></body></html>
